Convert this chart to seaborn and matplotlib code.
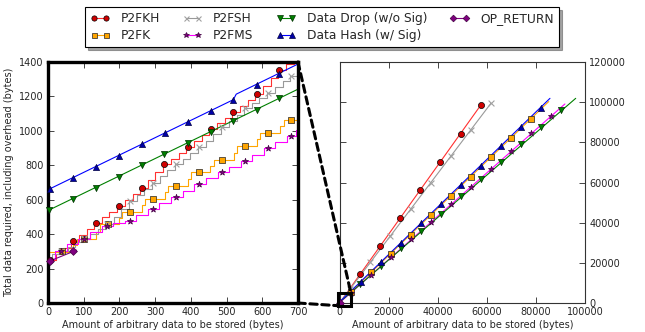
import matplotlib
matplotlib.use('Agg')
import seaborn as sns
from matplotlib import pyplot as plt
from matplotlib.lines import Line2D
from matplotlib.patches import Rectangle, ConnectionPatch

"""
Data (read off the reference chart)
"""
# left panel: staircase lines (step x, level) and marker positions
p2fkh_step_x = [0, 22, 43, 65, 86, 108, 129, 151, 172, 194, 215, 237, 258, 280, 301, 323, 344,
                366, 387, 409, 430, 452, 473, 495, 516, 538, 559, 581, 602, 624, 645, 667, 688, 700]
p2fkh_step_y = [250, 285, 320, 362, 395, 428, 463, 497, 531, 566, 599, 632, 666, 712, 760, 806, 839,
                872, 905, 940, 976, 1011, 1044, 1077, 1112, 1146, 1180, 1215, 1260, 1305, 1352, 1386, 1420, 1420]
p2fkh_mark_x = [5, 71, 134, 199, 262, 326, 391, 456, 519, 584, 647]
p2fkh_mark_y = [250, 362, 463, 566, 666, 806, 905, 1011, 1112, 1215, 1352]

p2fsh_step_x = [0, 12, 33, 55, 76, 98, 119, 141, 162, 184, 205, 227, 248, 270, 291, 313, 334,
                356, 377, 399, 420, 442, 463, 485, 506, 528, 549, 571, 592, 614, 635, 657, 678, 700]
p2fsh_step_y = [262, 283, 304, 328, 352, 376, 403, 430, 457, 500, 545, 590, 627, 664, 700, 735, 770,
                806, 839, 872, 905, 943, 982, 1020, 1057, 1094, 1131, 1161, 1191, 1222, 1255, 1288, 1321, 1321]
p2fsh_mark_x = [36, 102, 165, 230, 295, 358, 423, 486, 552, 617, 681]
p2fsh_mark_y = [304, 376, 457, 590, 700, 806, 905, 1020, 1131, 1222, 1321]

p2fk_step_x = [0, 70, 80, 135, 145, 198, 208, 262, 272, 327, 337, 391, 401, 455, 465,
               520, 530, 585, 595, 650, 660, 700]
p2fk_step_y = [298, 336, 372, 415, 457, 493, 529, 568, 606, 644, 682, 721, 760, 797, 833,
               873, 912, 950, 987, 1026, 1064, 1064]
p2fk_mark_x = [38, 102, 167, 230, 295, 358, 423, 486, 552, 617, 681]
p2fk_mark_y = [302, 372, 457, 529, 606, 682, 760, 833, 912, 987, 1064]

p2fms_step_x = [0, 20, 52, 85, 117, 150, 182, 215, 247, 280, 312, 345, 377, 410, 442, 475,
                507, 540, 572, 605, 637, 670, 695, 700]
p2fms_step_y = [258, 305, 340, 374, 410, 445, 462, 478, 512, 547, 580, 614, 652, 691, 725, 759,
                792, 825, 862, 900, 935, 970, 1005, 1005]
p2fms_mark_x = [36, 102, 165, 230, 295, 358, 423, 486, 552, 615, 680]
p2fms_mark_y = [305, 374, 445, 478, 547, 614, 691, 759, 825, 900, 970]

drop_line_x = [0, 700]
drop_line_y = [537, 1242]
drop_mark_x = [4, 69, 134, 199, 262, 326, 391, 456, 519, 584, 648]
drop_mark_y = [541, 605, 670, 733, 799, 865, 930, 992, 1060, 1122, 1190]

hash_line_x = [0, 519, 527, 700]
hash_line_y = [658, 1181, 1213, 1388]
hash_mark_x = [6, 71, 134, 199, 262, 328, 391, 456, 519, 584, 648]
hash_mark_y = [661, 724, 792, 856, 922, 986, 1050, 1116, 1180, 1267, 1329]

opret_line_x = [0, 80]
opret_line_y = [240, 307]
opret_mark_x = [6, 71]
opret_mark_y = [246, 304]

# right panel: straight lines (start, end) and marker positions
r_p2fkh_line_x = [0, 57400]
r_p2fkh_line_y = [240, 98400]
r_p2fkh_mark_x = [8200, 16400, 24600, 32800, 41000, 49200, 57400]
r_p2fkh_mark_y = [14260, 28280, 42300, 56330, 70350, 84370, 98400]

r_p2fsh_line_x = [0, 61600]
r_p2fsh_line_y = [260, 99400]
r_p2fsh_mark_x = [4300, 12400, 20600, 28800, 37000, 45200, 53400, 61600]
r_p2fsh_mark_y = [7100, 20200, 33400, 46600, 59800, 73000, 86200, 99400]

r_p2fk_line_x = [0, 85200]
r_p2fk_line_y = [300, 100300]
r_p2fk_mark_x = [4500, 12650, 20800, 28980, 37100, 45300, 53500, 61600, 69800, 78000]
r_p2fk_mark_y = [5600, 15200, 24300, 34000, 43600, 53200, 62900, 72500, 82100, 91800]

r_p2fms_line_x = [0, 91800]
r_p2fms_line_y = [260, 99100]
r_p2fms_mark_x = [4500, 12650, 20800, 28980, 37100, 45300, 53500, 61600, 69800, 78000, 86100]
r_p2fms_mark_y = [5100, 13700, 22700, 31700, 40200, 49300, 58000, 66900, 75600, 84600, 93200]

r_drop_line_x = [0, 96200]
r_drop_line_y = [540, 101900]
r_drop_mark_x = [8300, 16700, 24900, 33060, 41200, 49400, 57550, 65700, 73900, 82000, 90200]
r_drop_mark_y = [9400, 18500, 27200, 35800, 44300, 53100, 61700, 70300, 79000, 87700, 96300]

r_hash_line_x = [0, 85700]
r_hash_line_y = [660, 101900]
r_hash_mark_x = [0, 8440, 16600, 24900, 33060, 41200, 49400, 57550, 65700, 73900, 82000]
r_hash_mark_y = [660, 10300, 20200, 30100, 39700, 49300, 58900, 68400, 78300, 87800, 97200]

r_opret_mark_x = [0]
r_opret_mark_y = [240]

labels = ['P2FKH', 'P2FK', 'P2FSH', 'P2FMS', 'Data Drop (w/o Sig)', 'Data Hash (w/ Sig)', 'OP_RETURN']

"""
Styles
"""
STYLE = {
    'P2FKH': dict(color='#ff3030', marker='o', mfc='#d00000', mec='black', ms=4.4),
    'P2FK': dict(color='#ffa500', marker='s', mfc='#ffa500', mec='#222222', ms=4.2),
    'P2FSH': dict(color='#999999', marker='x', mfc='#a0a0a0', mec='#a0a0a0', ms=4.2),
    'P2FMS': dict(color='#ff00ff', marker='*', mfc='#800080', mec='#400040', ms=4.6),
    'Data Drop (w/o Sig)': dict(color='#008000', marker='v', mfc='#008000', mec='#003000', ms=4.4),
    'Data Hash (w/ Sig)': dict(color='#0000ff', marker='^', mfc='#0000aa', mec='#000040', ms=4.4),
    'OP_RETURN': dict(color='#800080', marker='D', mfc='#800080', mec='#400040', ms=4.0),
}

sns.set_style('ticks')
plt.rcParams['font.family'] = ['DejaVu Sans']
plt.rcParams['xtick.direction'] = 'in'
plt.rcParams['ytick.direction'] = 'in'
plt.rcParams['xtick.top'] = True
plt.rcParams['ytick.right'] = True


def draw(ax, name, lx, ly, mx, my, steps=False):
    st = STYLE[name]
    kws = dict(drawstyle='steps-post') if steps else {}
    sns.lineplot(x=lx, y=ly, ax=ax, color=st['color'], lw=0.8, estimator=None,
                 sort=False, legend=False, **kws)
    size = st['ms'] ** 2
    if st['marker'] == 'x':
        sns.scatterplot(x=mx, y=my, ax=ax, marker='x', color=st['mfc'], s=size,
                        linewidth=0.8, legend=False, zorder=3, clip_on=False)
    else:
        sns.scatterplot(x=mx, y=my, ax=ax, marker=st['marker'], color=st['mfc'],
                        edgecolor=st['mec'], linewidth=0.5, s=size, legend=False,
                        zorder=3, clip_on=False)


fig = plt.figure(figsize=(6.45, 3.32), dpi=100)
ax1 = fig.add_axes([0.0744, 0.0873, 0.3876, 0.726])
ax2 = fig.add_axes([0.527, 0.0873, 0.380, 0.726])

# left panel
draw(ax1, 'P2FKH', p2fkh_step_x, p2fkh_step_y, p2fkh_mark_x, p2fkh_mark_y, steps=True)
draw(ax1, 'P2FK', p2fk_step_x, p2fk_step_y, p2fk_mark_x, p2fk_mark_y, steps=True)
draw(ax1, 'P2FSH', p2fsh_step_x, p2fsh_step_y, p2fsh_mark_x, p2fsh_mark_y, steps=True)
draw(ax1, 'P2FMS', p2fms_step_x, p2fms_step_y, p2fms_mark_x, p2fms_mark_y, steps=True)
draw(ax1, 'Data Drop (w/o Sig)', drop_line_x, drop_line_y, drop_mark_x, drop_mark_y)
draw(ax1, 'Data Hash (w/ Sig)', hash_line_x, hash_line_y, hash_mark_x, hash_mark_y)
draw(ax1, 'OP_RETURN', opret_line_x, opret_line_y, opret_mark_x, opret_mark_y)
ax1.set_xlim(0, 700)
ax1.set_ylim(0, 1400)
ax1.set_xticks(range(0, 701, 100))
ax1.set_yticks(range(0, 1401, 200))
for sp in ax1.spines.values():
    sp.set_linewidth(2.4)
    sp.set_color('black')
ax1.tick_params(labelsize=7, length=4, width=0.6, pad=3)
ax1.set_xlabel('Amount of arbitrary data to be stored (bytes)', fontsize=7, labelpad=2)
ax1.set_ylabel('Total data required, including overhead (bytes)', fontsize=7, labelpad=4)

# right panel
draw(ax2, 'P2FKH', r_p2fkh_line_x, r_p2fkh_line_y, r_p2fkh_mark_x, r_p2fkh_mark_y)
draw(ax2, 'P2FSH', r_p2fsh_line_x, r_p2fsh_line_y, r_p2fsh_mark_x, r_p2fsh_mark_y)
draw(ax2, 'P2FK', r_p2fk_line_x, r_p2fk_line_y, r_p2fk_mark_x, r_p2fk_mark_y)
draw(ax2, 'P2FMS', r_p2fms_line_x, r_p2fms_line_y, r_p2fms_mark_x, r_p2fms_mark_y)
draw(ax2, 'Data Drop (w/o Sig)', r_drop_line_x, r_drop_line_y, r_drop_mark_x, r_drop_mark_y)
draw(ax2, 'Data Hash (w/ Sig)', r_hash_line_x, r_hash_line_y, r_hash_mark_x, r_hash_mark_y)
draw(ax2, 'OP_RETURN', [0, 80], [240, 307], r_opret_mark_x, r_opret_mark_y)
ax2.set_xlim(0, 100000)
ax2.set_ylim(0, 120000)
ax2.set_xticks(range(0, 100001, 20000))
ax2.set_yticks(range(0, 120001, 20000))
ax2.tick_params(axis='y', left=True, right=True, labelleft=False, labelright=True)
ax2.tick_params(labelsize=7, length=4, width=0.6, pad=3)
for sp in ax2.spines.values():
    sp.set_linewidth(0.8)
    sp.set_color('#333333')
ax2.set_xlabel('Amount of arbitrary data to be stored (bytes)', fontsize=7, labelpad=2)

# zoom box + connector lines
box_x0, box_y0, box_x1, box_y1 = -690, -1340, 4490, 4960
ax2.add_patch(Rectangle((box_x0, box_y0), box_x1 - box_x0, box_y1 - box_y0, fill=False,
                        lw=2.2, edgecolor='black', clip_on=False, zorder=5))
for a, b in [((1, 1), (box_x1, box_y1)), ((1, 0), (box_x0, box_y0))]:
    con = ConnectionPatch(xyA=a, coordsA=ax1.transAxes, xyB=b, coordsB=ax2.transData,
                          color='black', lw=2.2, linestyle=(0, (2.4, 1.5)))
    fig.add_artist(con)

# legend
handles = []
for name in labels:
    st = STYLE[name]
    handles.append(Line2D([], [], color=st['color'], lw=0.8, marker=st['marker'],
                          markerfacecolor=st['mfc'], markeredgecolor=st['mec'],
                          markeredgewidth=0.5 if st['marker'] != 'x' else 0.8,
                          markersize=st['ms'] - 0.6))
leg = fig.legend(handles, labels, loc='upper center', bbox_to_anchor=(0.499, 0.997), ncol=4,
                 fontsize=8.8, frameon=True, shadow=True, fancybox=False, numpoints=2,
                 handlelength=1.6, columnspacing=1.85, borderpad=0.42, labelspacing=0.3,
                 handletextpad=0.9)
leg.get_frame().set_edgecolor('black')
leg.get_frame().set_linewidth(0.8)

fig.savefig('out.png', dpi=100)
